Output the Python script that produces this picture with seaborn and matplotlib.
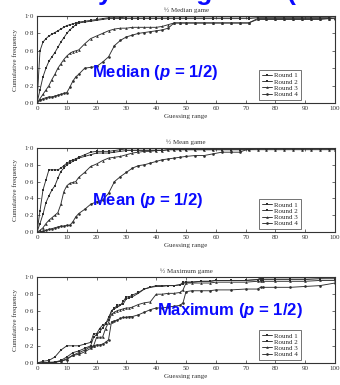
import numpy as np
import pandas as pd
import matplotlib
matplotlib.use("Agg")
import matplotlib.pyplot as plt
import seaborn as sns

# ---------------- data ----------------
ROUNDS = ["Round 1", "Round 2", "Round 3", "Round 4"]
X_TICKS = [0, 10, 20, 30, 40, 50, 60, 70, 80, 90, 100]
Y_TICKS = [0.0, 0.2, 0.4, 0.6, 0.8, 1.0]
Y_TICK_LABELS = ["0·0", "0·2", "0·4", "0·6", "0·8", "1·0"]

MED_X = [0, 1, 2, 3, 4, 5, 6, 7, 8, 9, 10, 11, 12, 13, 14,
         16, 18, 20, 22, 24, 26, 28, 30, 32, 34, 36, 38, 40, 42, 44, 46, 48, 50,
         53, 56, 59, 62, 65, 68, 71,
         74, 77, 80, 83, 86, 89, 92, 95, 98, 100]
MED_R1 = [0.00, 0.60, 0.70, 0.74, 0.77, 0.79, 0.81, 0.83, 0.85, 0.87, 0.89, 0.90, 0.91, 0.92, 0.93,
          0.94, 0.95, 0.96, 0.97, 0.98, 0.98, 0.98, 0.99, 0.99, 0.99, 0.99, 0.99, 0.99, 0.99, 0.99, 0.99, 0.99, 0.99,
          0.99, 0.99, 0.99, 0.99, 0.99, 0.99, 0.99,
          0.99, 0.99, 0.99, 0.99, 0.99, 0.99, 0.99, 0.99, 0.99, 1.00]
MED_R2 = [0.00, 0.15, 0.30, 0.40, 0.48, 0.53, 0.58, 0.64, 0.70, 0.75, 0.80, 0.84, 0.87, 0.90, 0.92,
          0.93, 0.94, 0.95, 0.96, 0.97, 0.97, 0.97, 0.97, 0.97, 0.97, 0.97, 0.97, 0.97, 0.97, 0.97, 0.97, 0.97, 0.97,
          0.97, 0.97, 0.97, 0.97, 0.97, 0.97, 0.97,
          0.98, 0.98, 0.98, 0.98, 0.98, 0.98, 0.98, 0.98, 0.98, 1.00]
MED_R3 = [0.00, 0.05, 0.10, 0.15, 0.20, 0.27, 0.33, 0.40, 0.45, 0.50, 0.54, 0.57, 0.59, 0.60, 0.61,
          0.68, 0.74, 0.77, 0.80, 0.83, 0.85, 0.86, 0.86, 0.87, 0.87, 0.87, 0.87, 0.87, 0.88, 0.90, 0.92, 0.92, 0.92,
          0.92, 0.92, 0.92, 0.92, 0.92, 0.92, 0.92,
          0.97, 0.97, 0.97, 0.97, 0.97, 0.97, 0.97, 0.97, 0.97, 0.98]
MED_R4 = [0.00, 0.03, 0.05, 0.06, 0.07, 0.07, 0.08, 0.09, 0.10, 0.11, 0.12, 0.18, 0.25, 0.30, 0.33,
          0.40, 0.41, 0.42, 0.47, 0.53, 0.66, 0.72, 0.76, 0.78, 0.80, 0.81, 0.82, 0.83, 0.84, 0.86, 0.92, 0.92, 0.92,
          0.92, 0.92, 0.92, 0.92, 0.92, 0.92, 0.92,
          0.96, 0.96, 0.96, 0.96, 0.96, 0.96, 0.96, 0.96, 0.97, 0.97]

MEAN_X = list(MED_X)
MEAN_R1 = [0.00, 0.25, 0.50, 0.62, 0.74, 0.74, 0.74, 0.74, 0.76, 0.79, 0.82, 0.84, 0.86, 0.87, 0.89,
           0.92, 0.95, 0.96, 0.96, 0.96, 0.97, 0.98, 0.99, 0.99, 0.99, 0.99, 0.99, 0.99, 0.99, 1.00, 1.00, 1.00, 1.00,
           1.00, 1.00, 1.00, 1.00, 1.00, 1.00, 1.00,
           1.00, 1.00, 1.00, 1.00, 1.00, 1.00, 1.00, 1.00, 1.00, 1.00]
MEAN_R2 = [0.00, 0.10, 0.21, 0.35, 0.43, 0.50, 0.55, 0.64, 0.72, 0.76, 0.80, 0.82, 0.84, 0.86, 0.88,
           0.90, 0.92, 0.94, 0.94, 0.94, 0.95, 0.96, 0.97, 0.97, 0.97, 0.97, 0.97, 0.97, 0.97, 0.98, 0.98, 0.98, 0.98,
           0.98, 0.98, 0.98, 0.98, 0.98, 0.98, 0.98,
           0.99, 0.99, 0.99, 0.99, 0.99, 0.99, 0.99, 0.99, 0.99, 0.99]
MEAN_R3 = [0.00, 0.02, 0.05, 0.10, 0.14, 0.17, 0.20, 0.23, 0.33, 0.48, 0.55, 0.58, 0.59, 0.60, 0.65,
           0.71, 0.78, 0.81, 0.85, 0.88, 0.89, 0.90, 0.92, 0.94, 0.95, 0.96, 0.96, 0.97, 0.97, 0.98, 0.98, 0.98, 0.98,
           0.98, 0.98, 0.98, 0.98, 0.98, 0.98, 0.98,
           0.98, 0.98, 0.98, 0.98, 0.98, 0.98, 0.98, 0.98, 0.98, 0.98]
MEAN_R4 = [0.00, 0.00, 0.01, 0.02, 0.03, 0.04, 0.05, 0.06, 0.07, 0.07, 0.08, 0.08, 0.12, 0.18, 0.22,
           0.27, 0.33, 0.36, 0.38, 0.46, 0.60, 0.66, 0.71, 0.76, 0.79, 0.80, 0.82, 0.84, 0.86, 0.87, 0.88, 0.89, 0.90,
           0.91, 0.91, 0.93, 0.95, 0.95, 0.95, 0.99,
           0.99, 0.99, 0.99, 0.99, 0.99, 0.99, 0.99, 0.99, 0.99, 0.99]

MAX_X = [0, 2, 4, 6, 8, 10, 12, 14, 16, 18, 19, 20, 21, 22, 23, 24, 25,
         26, 27, 28, 29, 30, 31, 32, 34, 36, 38, 40, 42, 44, 46, 48,
         49, 50, 52, 55, 58, 60, 65, 70, 74, 75, 76, 80, 85, 90, 95, 100]
MAX_R1 = [0.00, 0.02, 0.03, 0.07, 0.15, 0.20, 0.20, 0.20, 0.22, 0.24, 0.34, 0.34, 0.40, 0.44, 0.46, 0.50, 0.61,
          0.63, 0.65, 0.67, 0.72, 0.77, 0.77, 0.79, 0.82, 0.86, 0.88, 0.89, 0.89, 0.90, 0.90, 0.91,
          0.94, 0.94, 0.94, 0.95, 0.95, 0.96, 0.96, 0.96, 0.97, 0.99, 0.99, 0.99, 0.99, 0.99, 0.99, 1.00]
MAX_R2 = [0.00, 0.00, 0.01, 0.01, 0.03, 0.07, 0.12, 0.14, 0.17, 0.20, 0.30, 0.33, 0.36, 0.41, 0.45, 0.53, 0.60,
          0.64, 0.67, 0.68, 0.69, 0.75, 0.76, 0.77, 0.81, 0.86, 0.88, 0.90, 0.90, 0.90, 0.90, 0.91,
          0.92, 0.94, 0.94, 0.95, 0.95, 0.96, 0.96, 0.96, 0.97, 0.97, 0.97, 0.97, 0.97, 0.97, 0.98, 0.98]
MAX_R3 = [0.00, 0.00, 0.00, 0.01, 0.02, 0.05, 0.09, 0.10, 0.13, 0.17, 0.20, 0.30, 0.30, 0.30, 0.40, 0.47, 0.57,
          0.59, 0.61, 0.62, 0.63, 0.64, 0.64, 0.65, 0.68, 0.70, 0.71, 0.80, 0.80, 0.81, 0.81, 0.82,
          0.85, 0.93, 0.93, 0.93, 0.93, 0.94, 0.94, 0.94, 0.95, 0.95, 0.95, 0.95, 0.95, 0.95, 0.96, 0.96]
MAX_R4 = [0.00, 0.00, 0.00, 0.01, 0.02, 0.04, 0.09, 0.12, 0.15, 0.19, 0.20, 0.21, 0.21, 0.22, 0.24, 0.27, 0.48,
          0.49, 0.50, 0.52, 0.53, 0.53, 0.54, 0.54, 0.56, 0.59, 0.62, 0.64, 0.64, 0.65, 0.66, 0.67,
          0.70, 0.83, 0.84, 0.84, 0.84, 0.85, 0.85, 0.86, 0.86, 0.88, 0.88, 0.88, 0.88, 0.89, 0.90, 0.93]

PANELS = [
    ("½ Median game", MED_X, [MED_R1, MED_R2, MED_R3, MED_R4], "Median"),
    ("½ Mean game", MEAN_X, [MEAN_R1, MEAN_R2, MEAN_R3, MEAN_R4], "Mean"),
    ("½ Maximum game", MAX_X, [MAX_R1, MAX_R2, MAX_R3, MAX_R4], "Maximum"),
]

# ---------------- style ----------------
sns.set_style("ticks")
plt.rcParams["font.family"] = ["Liberation Serif", "DejaVu Serif"]
plt.rcParams["mathtext.fontset"] = "custom"
plt.rcParams["mathtext.it"] = "Liberation Sans:bold:italic"
plt.rcParams["mathtext.rm"] = "Liberation Sans:bold"

W, H = 340, 385
fig = plt.figure(figsize=(W / 100, H / 100), dpi=100)

# axes boxes in pixels: (left, top, right, bottom)
BOXES = [(37, 16, 335, 103), (37, 148, 335, 232), (37, 277, 335, 363)]
BLUE_POS = [(92, 73), (92, 201), (157, 310)]

line_col = "#2e2e2e"
for (title, xs, series, label), (l, t, r, b), (bx, by) in zip(PANELS, BOXES, BLUE_POS):
    ax = fig.add_axes([l / W, 1 - b / H, (r - l) / W, (b - t) / H])
    df = pd.concat([pd.DataFrame({"guess": xs, "cum": ys, "round": rn})
                    for rn, ys in zip(ROUNDS, series)], ignore_index=True)
    sns.lineplot(data=df, x="guess", y="cum", hue="round", style="round",
                 palette=[line_col] * 4, markers=["s", "s", "^", "o"], dashes=False,
                 markersize=1.9, markeredgewidth=0, linewidth=0.65, ax=ax)
    ax.set_xlim(0, 100)
    ax.set_ylim(0, 1.0)
    ax.set_xticks(X_TICKS)
    ax.set_xticklabels([str(v) for v in X_TICKS])
    ax.set_yticks(Y_TICKS)
    ax.set_yticklabels(Y_TICK_LABELS)
    ax.tick_params(direction="in", length=2, width=0.5, labelsize=5, pad=2,
                   top=True, right=True, colors="#333333")
    for s in ax.spines.values():
        s.set_linewidth(0.8)
        s.set_color("#333333")
        s.set_visible(True)
    ax.set_xlabel("Guessing range", fontsize=5, labelpad=2, color="#333333")
    ax.set_ylabel("Cumulative frequency", fontsize=5, labelpad=5, color="#333333")
    ax.set_title(title, fontsize=5, pad=3, color="#333333")
    leg = ax.legend(loc="lower right", bbox_to_anchor=(0.885, 0.04), fontsize=5,
                    frameon=True, fancybox=False, edgecolor="#333333",
                    handlelength=1.4, handletextpad=0.4, borderpad=0.35,
                    labelspacing=0.05, borderaxespad=0)
    leg.get_frame().set_linewidth(0.6)
    fig.text(bx / W, 1 - by / H, label + r" ($p$ = 1/2)", color="#0a0aff",
             fontsize=12, fontweight="bold", family="Liberation Sans",
             ha="left", va="center")

fig.text(79 / W, 1.0, "Dynamic games (beauty contest)", color="#0a0aff",
         fontsize=19, fontweight="bold", family="Liberation Sans",
         ha="left", va="baseline")

fig.savefig("out.png", dpi=100)
